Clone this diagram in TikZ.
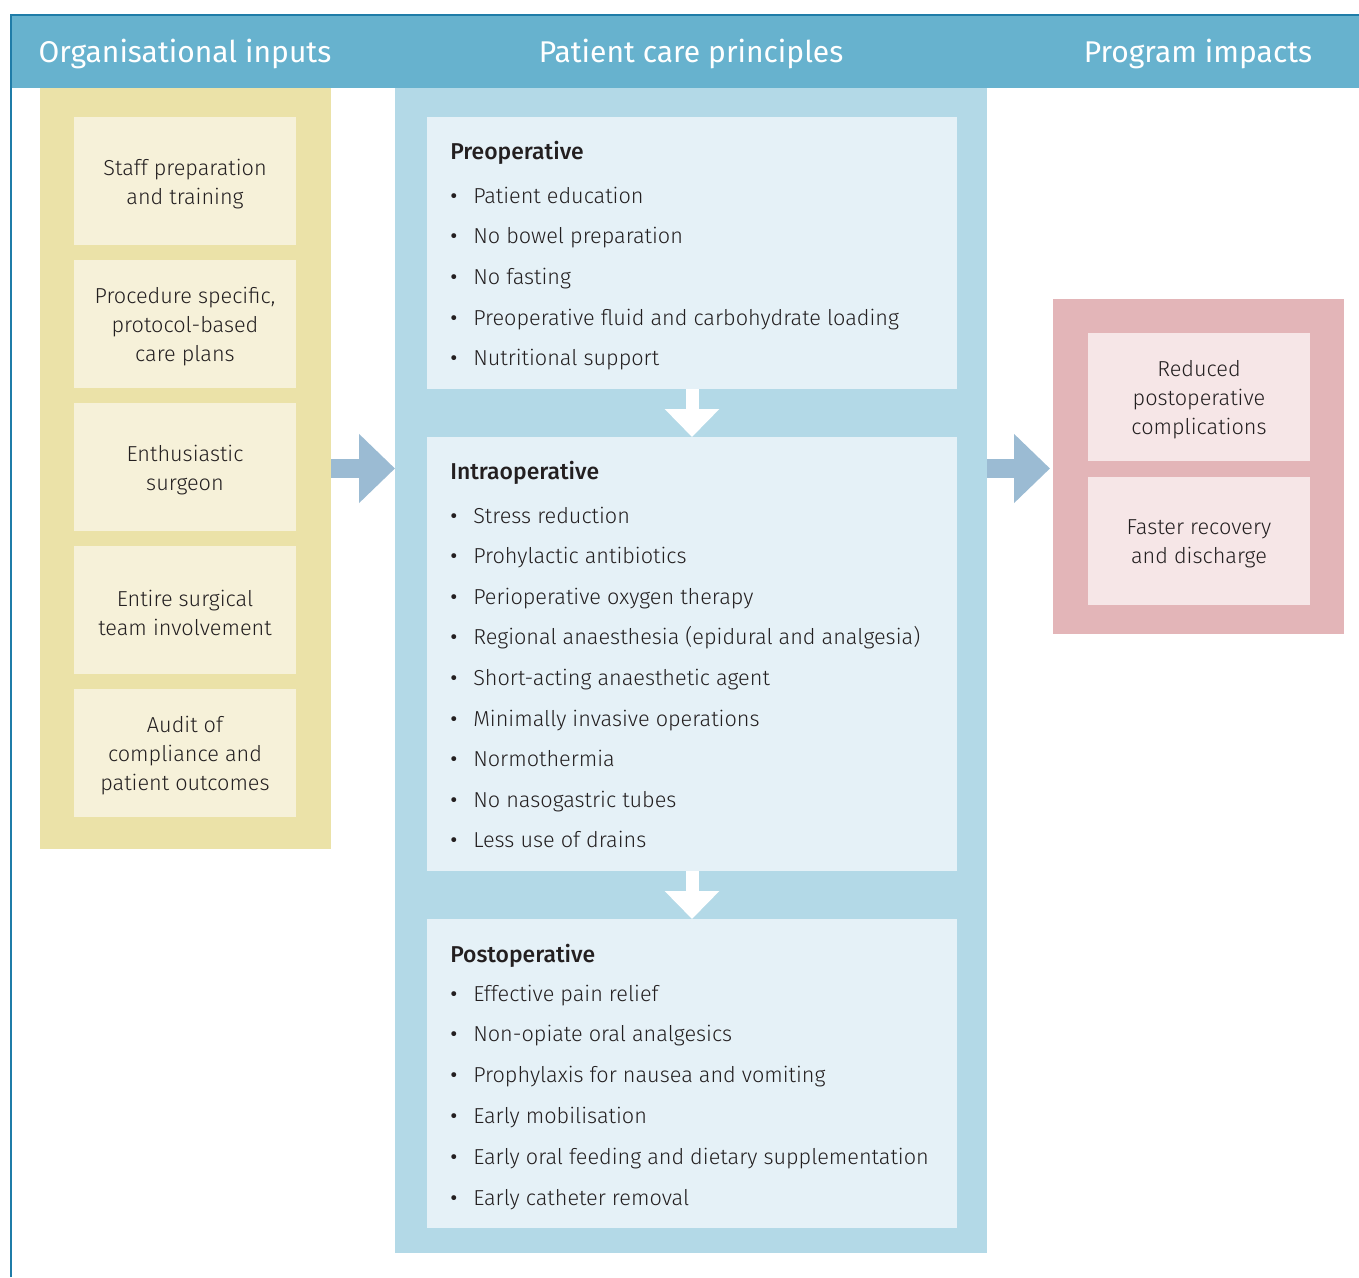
\documentclass[tikz,border=0pt]{standalone}
\usepackage{fontspec}
\setmainfont{Fira Sans Light}[BoldFont={Fira Sans Medium}]
\newfontfamily\headfont{Fira Sans}
\usetikzlibrary{calc,arrows.meta}

\definecolor{headblue}{HTML}{67B2CE}
\definecolor{framecol}{HTML}{1F7CA8}
\definecolor{ylwout}{HTML}{EBE2A8}
\definecolor{ylwin}{HTML}{F6F1D9}
\definecolor{bluout}{HTML}{B3D9E7}
\definecolor{bluin}{HTML}{E5F1F7}
\definecolor{pnkout}{HTML}{E3B5B8}
\definecolor{pnkin}{HTML}{F6E6E7}
\definecolor{arrowcol}{HTML}{9BBBD3}
\definecolor{ink}{HTML}{231F20}

\newdimen\upx
\upx=0.75pt

\newcommand{\bodyfont}{\fontsize{16.25}{21.75}\selectfont}
\newcommand{\bul}{\llap{{\headfont\textbullet}\hspace{12pt}}}

\tikzset{
  panel/.style={inner sep=0pt, outer sep=0pt},
  boxtext/.style={inner sep=0pt, align=center, font=\bodyfont, text=ink},
  headtxt/.style={anchor=base, inner sep=0pt, text=white,
    font=\headfont\fontsize{22.5}{26}\selectfont},
  sechead/.style={anchor=base west, inner sep=0pt, text=ink,
    font=\fontsize{17.2}{21.75}\selectfont\bfseries},
  item/.style={anchor=base west, inner sep=0pt, text=ink, font=\bodyfont},
  sidearrow/.style={arrowcol, line width=14.25pt,
    -{Triangle[length=27pt, width=50.25pt]}},
  downarrow/.style={white, line width=9.75pt,
    -{Triangle[length=21pt, width=39.75pt]}}
}

\begin{document}
\begin{tikzpicture}[x=0.75pt, y=-0.75pt]
\useasboundingbox (0,0) rectangle (1359,1277);
\fill[white] (0,0) rectangle (1359,1277);

% header band and frame
\fill[headblue] (11,15) rectangle (1359,88);
\draw[framecol, line width=1.5\upx] (11,1277) -- (11,15) -- (1359,15);
\node[headtxt] (h1) at (185,63) {Organisational inputs};
\node[headtxt] (h2) at (691,63) {Patient care principles};
\node[headtxt] (h3) at (1198,63) {Program impacts};

% organisational inputs column
\node[panel, fill=ylwout, minimum width=291\upx, minimum height=761\upx]
  (ycol) at (185.5,468.5) {};
\node[panel, fill=ylwin, minimum width=222\upx, minimum height=128\upx] (y1) at (185,181) {};
\node[panel, fill=ylwin, minimum width=222\upx, minimum height=128\upx] (y2) at (185,324) {};
\node[panel, fill=ylwin, minimum width=222\upx, minimum height=128\upx] (y3) at (185,467) {};
\node[panel, fill=ylwin, minimum width=222\upx, minimum height=128\upx] (y4) at (185,610) {};
\node[panel, fill=ylwin, minimum width=222\upx, minimum height=128\upx] (y5) at (185,753) {};
\node[boxtext] (y1t) at ($(y1.center)+(0,3)$) {Staff preparation\\and training};
\node[boxtext] (y2t) at ($(y2.center)+(0,3)$) {Procedure specific,\\protocol-based\\care plans};
\node[boxtext] (y3t) at ($(y3.center)+(0,3)$) {Enthusiastic\\surgeon};
\node[boxtext] (y4t) at ($(y4.center)+(0,3)$) {Entire surgical\\team involvement};
\node[boxtext] (y5t) at ($(y5.center)+(0,3)$) {Audit of\\compliance and\\patient outcomes};

% patient care principles column
\node[panel, fill=bluout, minimum width=592\upx, minimum height=1165\upx]
  (bcol) at (691,670.5) {};
\node[panel, fill=bluin, minimum width=530\upx, minimum height=272\upx]
  (pre) at (692,253) {};
\node[panel, fill=bluin, minimum width=530\upx, minimum height=434\upx]
  (intra) at (692,654) {};
\node[panel, fill=bluin, minimum width=530\upx, minimum height=309\upx]
  (post) at (692,1073.5) {};

\node[sechead] (preh) at ($(pre.north west)+(23,43)$) {Preoperative};
\foreach \t [count=\i] in {Patient education, No bowel preparation, No fasting,
  Preoperative fluid and carbohydrate loading, Nutritional support}
  \node[item] (pre\i) at ($(pre.north west)+(46,{86+(\i-1)*40.7})$) {\bul\t};

\node[sechead] (intrah) at ($(intra.north west)+(23,42)$) {Intraoperative};
\foreach \t [count=\i] in {Stress reduction, Prohylactic antibiotics,
  Perioperative oxygen therapy,
  Regional anaesthesia (epidural and analgesia),
  Short-acting anaesthetic agent, Minimally invasive operations,
  Normothermia, No nasogastric tubes, Less use of drains}
  \node[item] (intra\i) at ($(intra.north west)+(46,{86+(\i-1)*40.6})$) {\bul\t};

\node[sechead] (posth) at ($(post.north west)+(23,43)$) {Postoperative};
\foreach \t [count=\i] in {Effective pain relief, Non-opiate oral analgesics,
  Prophylaxis for nausea and vomiting, Early mobilisation,
  Early oral feeding and dietary supplementation, Early catheter removal}
  \node[item] (post\i) at ($(post.north west)+(46,{82+(\i-1)*40.8})$) {\bul\t};

\draw[downarrow] (pre.south) -- (intra.north);
\draw[downarrow] (intra.south) -- (post.north);

% program impacts column
\node[panel, fill=pnkout, minimum width=291\upx, minimum height=335\upx]
  (pcol) at (1198.5,466.5) {};
\node[panel, fill=pnkin, minimum width=222\upx, minimum height=128\upx] (p1) at (1199,397) {};
\node[panel, fill=pnkin, minimum width=222\upx, minimum height=128\upx] (p2) at (1199,541) {};
\node[boxtext] (p1t) at ($(p1.center)+(0,3)$) {Reduced\\postoperative\\complications};
\node[boxtext] (p2t) at ($(p2.center)+(0,3)$) {Faster recovery\\and discharge};

% flow between columns
\draw[sidearrow] (ycol.east) -- (ycol.east -| bcol.west);
\draw[sidearrow] (ycol.east -| bcol.east) -- ($(ycol.east -| pcol.west)+(-3,0)$);
\end{tikzpicture}
\end{document}
